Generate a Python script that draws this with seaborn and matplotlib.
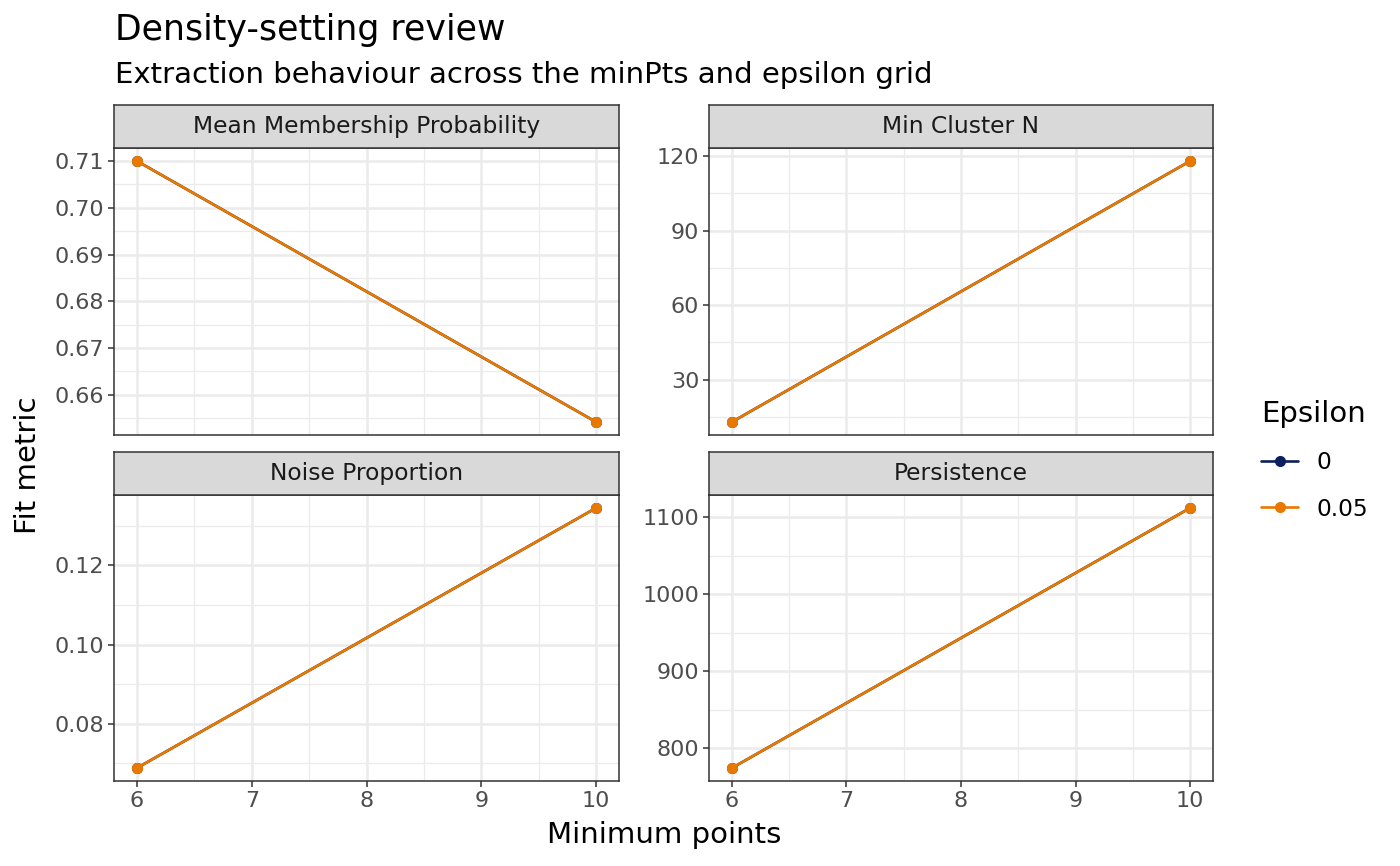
import numpy as np
import pandas as pd
import matplotlib
matplotlib.use("Agg")
import matplotlib.pyplot as plt
import seaborn as sns

# values
metrics = ["Mean Membership Probability", "Min Cluster N", "Noise Proportion", "Persistence"]
min_pts = [6, 10]
epsilons = ["0", "0.05"]
mean_membership = [0.710, 0.6542]
min_cluster_n = [13, 118]
noise_prop = [0.0688, 0.1345]
persistence = [774, 1112]

y_ticks = {
    "Mean Membership Probability": [0.66, 0.67, 0.68, 0.69, 0.70, 0.71],
    "Min Cluster N": [30, 60, 90, 120],
    "Noise Proportion": [0.08, 0.10, 0.12],
    "Persistence": [800, 900, 1000, 1100],
}
y_fmt = {
    "Mean Membership Probability": "{:.2f}",
    "Min Cluster N": "{:.0f}",
    "Noise Proportion": "{:.2f}",
    "Persistence": "{:.0f}",
}

vals = dict(zip(metrics, [mean_membership, min_cluster_n, noise_prop, persistence]))
rows = []
for eps in epsilons:
    for m in metrics:
        for x, v in zip(min_pts, vals[m]):
            rows.append({"metric": m, "minPts": x, "epsilon": eps, "value": v})
df = pd.DataFrame(rows)

sns.set_theme(style="white")
plt.rcParams["font.family"] = ["DejaVu Sans"]
plt.rcParams["text.color"] = "black"

palette = {"0": "#0C1F5E", "0.05": "#E87800"}
W, H = 1400, 866
fig = plt.figure(figsize=(14, 8.66), dpi=100)

def box(l, t, r, b):
    return [l / W, 1 - b / H, (r - l) / W, (b - t) / H]

panels = [
    (114, 105, 619, 148, 435),
    (709, 105, 1213, 148, 435),
    (114, 452, 619, 495, 781),
    (709, 452, 1213, 495, 781),
]

handles = labels = None
for i, (m, (l, st, r, at, ab)) in enumerate(zip(metrics, panels)):
    ax = fig.add_axes(box(l, at, r, ab))
    sub = df[df["metric"] == m]
    sns.lineplot(data=sub, x="minPts", y="value", hue="epsilon", hue_order=epsilons,
                 palette=palette, marker="o", markersize=8, markeredgewidth=0,
                 linewidth=1.9, ax=ax, legend=(i == 0), zorder=3)
    if i == 0:
        handles, labels = ax.get_legend_handles_labels()
        ax.get_legend().remove()
    lo, hi = min(vals[m]), max(vals[m])
    pad = (hi - lo) * 0.05
    ax.set_xlim(6 - 0.2, 10 + 0.2)
    ax.set_xticks([6, 7, 8, 9, 10])
    ax.set_xticks([6.5, 7.5, 8.5, 9.5], minor=True)
    yt = y_ticks[m]
    step = yt[1] - yt[0]
    ax.set_yticks(yt)
    minors = [yt[0] - step / 2] + [t + step / 2 for t in yt]
    ax.set_yticks(minors, minor=True)
    ax.set_yticklabels([y_fmt[m].format(t) for t in yt])
    ax.set_ylim(lo - pad, hi + pad)
    ax.grid(which="major", color="#EBEBEB", linewidth=1.8, zorder=0)
    ax.grid(which="minor", color="#EBEBEB", linewidth=0.9, zorder=0)
    ax.set_axisbelow(True)
    ax.tick_params(which="major", direction="out", length=4, width=1.1, color="#333333",
                   labelsize=16, labelcolor="#4D4D4D", left=True, bottom=(i >= 2), pad=3)
    ax.tick_params(which="minor", length=0)
    if i < 2:
        ax.set_xticklabels([])
    for s in ax.spines.values():
        s.set_color("#333333")
        s.set_linewidth(1.1)
    ax.set_xlabel("")
    ax.set_ylabel("")

    # facet strip
    sax = fig.add_axes(box(l, st, r, at))
    sax.set_facecolor("#D9D9D9")
    sax.set_xticks([])
    sax.set_yticks([])
    for s in sax.spines.values():
        s.set_color("#333333")
        s.set_linewidth(1.1)
    sax.text(0.5, 0.5, m, ha="center", va="center", fontsize=16.8, color="#1A1A1A",
             transform=sax.transAxes)

fig.text(115 / W, 1 - 40 / H, "Density-setting review", fontsize=25, va="baseline", ha="left")
fig.text(115 / W, 1 - 83 / H, "Extraction behaviour across the minPts and epsilon grid",
         fontsize=21, va="baseline", ha="left")
fig.text(664 / W, 1 - 835 / H, "Minimum points", fontsize=21, ha="center", va="center")
fig.text(28 / W, 1 - 465 / H, "Fit metric", fontsize=21, ha="center", va="center", rotation=90)

leg = fig.legend(handles, labels, title="Epsilon", loc="upper left",
                 bbox_to_anchor=(1240 / W, 1 - 379 / H), frameon=False,
                 fontsize=16.8, title_fontsize=21, handlelength=1.6, labelspacing=1.0,
                 alignment="left", handletextpad=0.8)
for t in leg.get_texts():
    t.set_color("black")
leg.get_title().set_color("black")

fig.savefig("out.png", dpi=100)
